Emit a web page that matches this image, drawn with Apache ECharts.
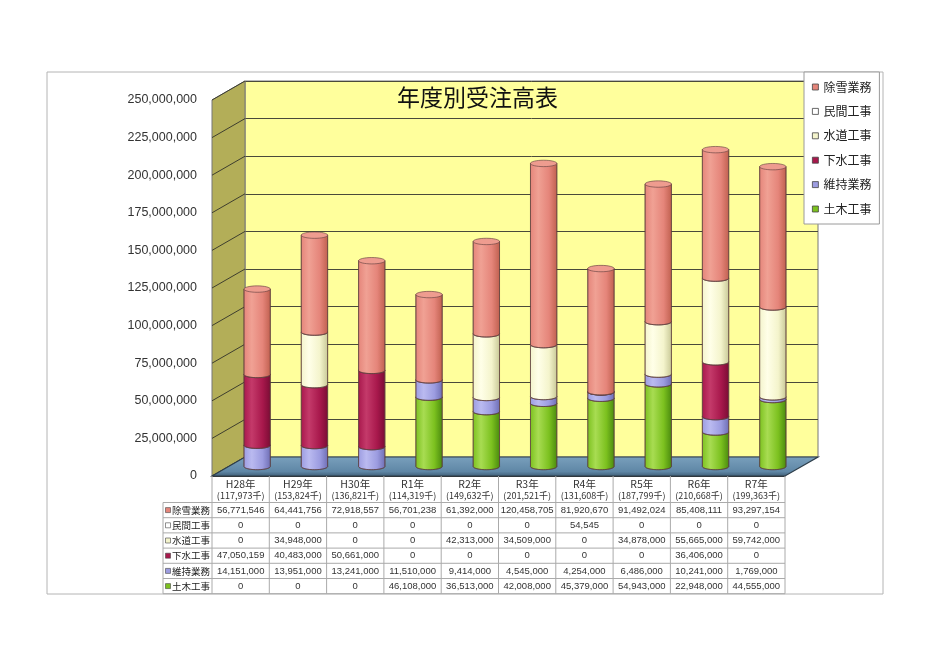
<!doctype html>
<html lang="ja">
<head>
<meta charset="utf-8">
<title>年度別受注高表</title>
<script src="https://cdn.jsdelivr.net/npm/echarts@6/dist/echarts.min.js"></script>
<style>
    html, body {margin: 0; padding: 0; background: #fff;}
    #chart {width: 936px; height: 662px;}
</style>
</head>
<body>
<div id="chart"></div>
<script>
    // 年度
    let years = ['H28年', 'H29年', 'H30年', 'R1年', 'R2年', 'R3年', 'R4年', 'R5年', 'R6年', 'R7年'];
    // 工事別受注高（円）
    let doboku = [0, 0, 0, 46108000, 36513000, 42008000, 45379000, 54943000, 22948000, 44555000];
    let iji = [14151000, 13951000, 13241000, 11510000, 9414000, 4545000, 4254000, 6486000, 10241000, 1769000];
    let gesui = [47050159, 40483000, 50661000, 0, 0, 0, 0, 0, 36406000, 0];
    let suido = [0, 34948000, 0, 0, 42313000, 34509000, 0, 34878000, 55665000, 59742000];
    let minkan = [0, 0, 0, 0, 0, 0, 54545, 0, 0, 0];
    let josetsu = [56771546, 64441756, 72918557, 56701238, 61392000, 120458705, 81920670, 91492024, 85408111, 93297154];
    let yTicks = [0, 25000000, 50000000, 75000000, 100000000, 125000000, 150000000, 175000000, 200000000, 225000000, 250000000];

    // 積み上げ順（下から）
    let stack = [
        {name: '土木工事', data: doboku, base: '#7cc11f', light: '#a8dc52', dark: '#4a8a0e', top: '#93d03a'},
        {name: '維持業務', data: iji, base: '#9c9ce0', light: '#babaf0', dark: '#6e6eb4', top: '#b0b0ec'},
        {name: '下水工事', data: gesui, base: '#a8184c', light: '#c43a6a', dark: '#7a0c34', top: '#bc3062'},
        {name: '水道工事', data: suido, base: '#f4f4cc', light: '#ffffe8', dark: '#c8c896', top: '#fbfbe0'},
        {name: '民間工事', data: minkan, base: '#ffffff', light: '#ffffff', dark: '#cccccc', top: '#ffffff'},
        {name: '除雪業務', data: josetsu, base: '#e5857a', light: '#f0a194', dark: '#c0604f', top: '#ee9c8f'}
    ];
    let tableRows = ['除雪業務', '民間工事', '水道工事', '下水工事', '維持業務', '土木工事'];

    // レイアウト（前面・奥行き）
    const FX = 212, FY = 100, FW = 573, FH = 376, DX = 33, DY = -19;
    const TT = 502.5, RH = 15.2, TL = 163;
    const JP = '"Noto Sans CJK JP", sans-serif';

    let totals = years.map(function (y, i) {
        return stack.reduce(function (s, st) { return s + st.data[i]; }, 0);
    });
    let fmt = function (v) { return v.toLocaleString('en-US'); };

    function cylinder(st) {
        let fill = new echarts.graphic.LinearGradient(0, 0, 1, 0, [
            {offset: 0, color: st.base}, {offset: 0.3, color: st.light},
            {offset: 0.7, color: st.base}, {offset: 1, color: st.dark}
        ]);
        return function (params, api) {
            let lo = api.value(1), hi = api.value(2);
            if (hi <= lo) return null;
            let pTop = api.coord([api.value(0), hi]);
            let pBot = api.coord([api.value(0), lo]);
            let rx = api.size([1, 0])[0] * 0.23, ry = 3.2, cx = pTop[0];
            let pts = [[cx - rx, pTop[1]], [cx - rx, pBot[1]]];
            for (let k = 1; k < 24; k++) {
                let a = Math.PI * k / 24;
                pts.push([cx - rx * Math.cos(a), pBot[1] + ry * Math.sin(a)]);
            }
            pts.push([cx + rx, pBot[1]], [cx + rx, pTop[1]]);
            return {
                type: 'group', children: [
                    {type: 'polygon', shape: {points: pts}, style: {fill: fill, stroke: '#5a3a3a', lineWidth: 0.6}},
                    {type: 'ellipse', shape: {cx: cx, cy: pTop[1], rx: rx, ry: ry}, style: {fill: st.top, stroke: '#5a3a3a', lineWidth: 0.6}}
                ]
            };
        };
    }

    let series = [];
    let acc = years.map(function () { return 0; });
    stack.forEach(function (st) {
        let data = st.data.map(function (v, i) {
            let d = [i, acc[i], acc[i] + v];
            acc[i] += v;
            return d;
        });
        series.push({
            name: st.name, type: 'custom', xAxisIndex: 2, yAxisIndex: 2,
            itemStyle: {color: st.base}, encode: {x: 0, y: [1, 2]}, clip: false,
            renderItem: cylinder(st), data: data
        });
    });

    let yAxisBase = {type: 'value', min: 0, max: 250000000, interval: 25000000};

    let chart = echarts.init(document.getElementById('chart'));
    chart.setOption({
        animation: false,
        backgroundColor: '#fff',
        title: {
            text: '年度別受注高表', left: 397, top: 86, padding: 0,
            textStyle: {fontSize: 23, fontWeight: 'normal', color: '#111', fontFamily: JP}
        },
        legend: {
            data: tableRows, orient: 'vertical', left: 804, top: 72,
            padding: [9, 8, 9, 8], itemGap: 12.4, itemWidth: 6, itemHeight: 6, icon: 'rect',
            backgroundColor: '#fff', borderColor: '#9a9a9a', borderWidth: 1,
            itemStyle: {borderColor: '#444', borderWidth: 0.8},
            textStyle: {fontSize: 12, color: '#222', fontFamily: JP, lineHeight: 12}
        },
        grid: [
            {left: FX, top: FY, width: FW, height: FH},
            {left: FX + DX, top: FY + DY, width: FW, height: FH, show: true, backgroundColor: '#ffff9c', borderColor: '#777', borderWidth: 1},
            {left: FX + DX / 2, top: FY + DY / 2, width: FW, height: FH}
        ],
        xAxis: [
            {
                type: 'category', gridIndex: 0, data: years,
                axisLine: {lineStyle: {color: '#333'}}, axisTick: {show: false},
                axisLabel: {
                    interval: 0, margin: 2.5, lineHeight: 11.5,
                    formatter: function (v, i) {
                        return '{a|' + v + '}\n{b|(' + fmt(Math.round(totals[i] / 1000)) + '千)}';
                    },
                    rich: {
                        a: {fontSize: 10.5, color: '#333', fontFamily: JP, lineHeight: 11.5},
                        b: {fontSize: 9, color: '#333', fontFamily: JP, lineHeight: 11.5}
                    }
                }
            },
            {type: 'category', gridIndex: 1, data: years, show: false},
            {type: 'category', gridIndex: 2, data: years, show: false}
        ],
        yAxis: [
            Object.assign({}, yAxisBase, {
                gridIndex: 0, axisLine: {show: false}, axisTick: {show: false}, splitLine: {show: false},
                axisLabel: {margin: 15, color: '#333', fontSize: 12.5, fontFamily: '"Liberation Sans", Arial', formatter: fmt}
            }),
            Object.assign({}, yAxisBase, {
                gridIndex: 1, axisLine: {show: false}, axisTick: {show: false}, axisLabel: {show: false},
                splitLine: {lineStyle: {color: '#4a4a3a', width: 1}}
            }),
            Object.assign({}, yAxisBase, {gridIndex: 2, show: false})
        ],
        series: series
    });

    // 側壁・床・データ表
    let g = [];
    g.push({type: 'rect', z: 0, shape: {x: 47, y: 72, width: 836, height: 522}, style: {fill: 'none', stroke: '#b4b4b4', lineWidth: 1}});
    g.push({
        type: 'polygon', z: 1,
        shape: {points: [[FX, FY], [FX + DX, FY + DY], [FX + DX, FY + FH + DY], [FX, FY + FH]]},
        style: {fill: '#b3ae58', stroke: '#777', lineWidth: 1}
    });
    yTicks.forEach(function (v) {
        let y = chart.convertToPixel({yAxisIndex: 0}, v);
        g.push({type: 'line', z: 1, shape: {x1: FX, y1: y, x2: FX + DX, y2: y + DY}, style: {stroke: '#3e3e2e', lineWidth: 1}});
    });
    g.push({
        type: 'polygon', z: 1,
        shape: {points: [[FX, FY + FH], [FX + DX, FY + FH + DY], [FX + FW + DX, FY + FH + DY], [FX + FW, FY + FH]]},
        style: {
            fill: new echarts.graphic.LinearGradient(0, 0, 0, 1, [{offset: 0, color: '#7aa0bd'}, {offset: 0.75, color: '#5f87a6'}, {offset: 1, color: '#3e5c74'}]),
            stroke: '#2e3e4a', lineWidth: 1.2
        }
    });

    let colW = FW / years.length;
    for (let r = 0; r <= tableRows.length; r++) {
        g.push({type: 'line', z: 1, shape: {x1: TL, y1: TT + r * RH, x2: FX + FW, y2: TT + r * RH}, style: {stroke: '#aaa', lineWidth: 1}});
    }
    g.push({type: 'line', z: 1, shape: {x1: TL, y1: TT, x2: TL, y2: TT + tableRows.length * RH}, style: {stroke: '#aaa', lineWidth: 1}});
    for (let c = 0; c <= years.length; c++) {
        g.push({type: 'line', z: 1, shape: {x1: FX + c * colW, y1: FY + FH, x2: FX + c * colW, y2: TT + tableRows.length * RH}, style: {stroke: '#aaa', lineWidth: 1}});
    }
    tableRows.forEach(function (name, r) {
        let st = stack.filter(function (s) { return s.name === name; })[0];
        let yc = TT + (r + 0.5) * RH;
        g.push({type: 'rect', z: 2, shape: {x: 165.5, y: yc - 2.5, width: 5, height: 5}, style: {fill: st.base, stroke: '#444', lineWidth: 0.6}});
        g.push({type: 'text', z: 2, style: {text: name, x: 172, y: yc, font: '9.5px ' + JP, fill: '#222', align: 'left', verticalAlign: 'middle'}});
        st.data.forEach(function (v, c) {
            g.push({
                type: 'text', z: 2,
                style: {text: fmt(v), x: FX + (c + 0.5) * colW, y: yc, font: '9.5px "Liberation Sans Narrow", "Liberation Sans"', fill: '#333', align: 'center', verticalAlign: 'middle'}
            });
        });
    });
    chart.setOption({graphic: g});
</script>
</body>
</html>
